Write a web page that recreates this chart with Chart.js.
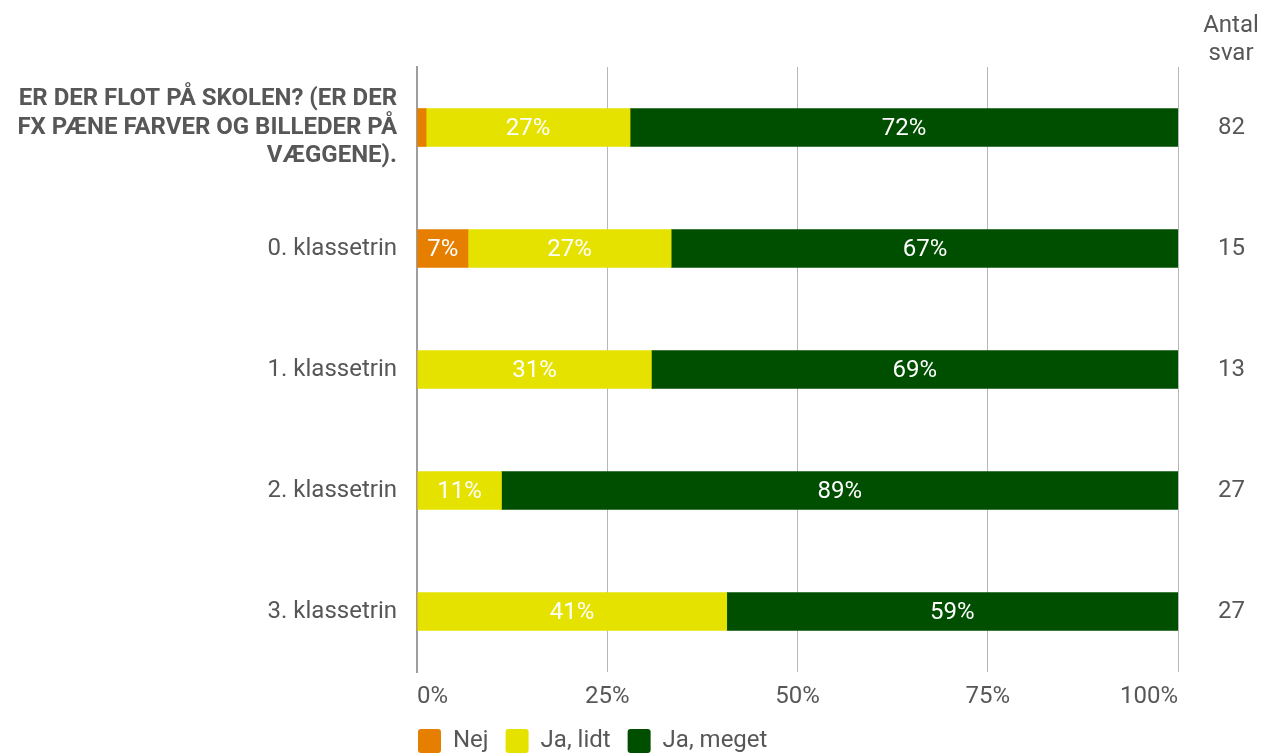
<!DOCTYPE html>
<html>
<head>
<meta charset="utf-8">
<script src="https://cdn.jsdelivr.net/npm/chart.js@4"></script>
<style>
  html, body { margin: 0; padding: 0; background: #fff; }
  #wrap { width: 1264px; height: 753px; }
</style>
</head>
<body>
<div id="wrap"><canvas id="chart"></canvas></div>
<script>
// Categories (first one is the question itself, shown bold in caps)
const categories = [
    ['ER DER FLOT PÅ SKOLEN? (ER DER', 'FX PÆNE FARVER OG BILLEDER PÅ', 'VÆGGENE).'],
    '0. klassetrin',
    '1. klassetrin',
    '2. klassetrin',
    '3. klassetrin'
];

// Shares in percent per answer
const nej = [1.2, 6.7, 0, 0, 0];
const jaLidt = [26.8, 26.7, 30.8, 11.1, 40.7];
const jaMeget = [72.0, 66.7, 69.2, 88.9, 59.3];

// Number of answers per row
const antalSvar = ['82', '15', '13', '27', '27'];

const xTicks = [0, 25, 50, 75, 100];

const textGrey = '#575757';
Chart.defaults.font.family = 'Roboto, "Noto Sans", sans-serif';
Chart.defaults.font.size = 24;
Chart.defaults.color = textGrey;

// Percent labels inside the bar segments
const segmentLabels = {
    id: 'segmentLabels',
    afterDatasetsDraw(chart) {
        const ctx = chart.ctx;
        ctx.save();
        ctx.font = '24px Roboto, sans-serif';
        ctx.fillStyle = '#ffffff';
        ctx.textAlign = 'center';
        ctx.textBaseline = 'middle';
        chart.data.datasets.forEach((ds, i) => {
            chart.getDatasetMeta(i).data.forEach((bar, j) => {
                const v = ds.data[j];
                const w = Math.abs(bar.x - bar.base);
                if (!v || w < 30) return;
                ctx.fillText(Math.round(v) + '%', (bar.x + bar.base) / 2, bar.y + 1);
            });
        });
        ctx.restore();
    }
};

// "Antal svar" header over the count column
const countHeader = {
    id: 'countHeader',
    afterDraw(chart) {
        const s = chart.scales.y2;
        const ctx = chart.ctx;
        ctx.save();
        ctx.font = '24px Roboto, sans-serif';
        ctx.fillStyle = textGrey;
        ctx.textAlign = 'center';
        ctx.textBaseline = 'middle';
        const x = s.left + 53;
        ctx.fillText('Antal', x, 26);
        ctx.fillText('svar', x, 54);
        ctx.restore();
    }
};

// line the legend up with the left edge of the plot
const legendShift = {
    id: 'legendShift',
    afterLayout(chart) {
        const lg = chart.legend;
        const pad = lg.options.labels.padding;
        lg.left -= pad - 1;
        lg.right -= pad - 1;
        lg.top += 7;
        lg.bottom += 7;
    }
};

const ctx = document.getElementById('chart').getContext('2d');
const chart = new Chart(ctx, {
    type: 'bar',
    data: {
        labels: categories,
        datasets: [
            { label: 'Nej', data: nej, backgroundColor: '#e67e00' },
            { label: 'Ja, lidt', data: jaLidt, backgroundColor: '#e6e200' },
            { label: 'Ja, meget', data: jaMeget, backgroundColor: '#004f00' }
        ]
    },
    options: {
        indexAxis: 'y',
        responsive: true,
        maintainAspectRatio: false,
        animation: false,
        barThickness: 38,
        layout: { padding: { top: 67, left: 0, right: 0, bottom: -3 } },
        scales: {
            x: {
                stacked: true,
                min: 0,
                max: 100,
                afterBuildTicks(scale) {
                    scale.ticks = xTicks.map(v => ({ value: v }));
                },
                afterFit(scale) { scale.height = 33; },
                ticks: {
                    align: 'inner',
                    padding: 11,
                    callback: v => v + '%'
                },
                grid: { color: '#b7b7b7', lineWidth: 1, drawTicks: false },
                border: { display: false }
            },
            y: {
                stacked: true,
                afterFit(scale) { scale.width = 417; },
                ticks: {
                    padding: 20,
                    font: c => c.index === 0
                        ? { size: 24, weight: 'bold', lineHeight: 1.17 }
                        : { size: 24 }
                },
                grid: { display: false, drawTicks: false },
                border: { display: true, color: '#9e9e9e', width: 2 }
            },
            y2: {
                type: 'category',
                position: 'right',
                labels: antalSvar,
                offset: true,
                afterFit(scale) { scale.width = 86; },
                ticks: { padding: 40, crossAlign: 'center' },
                grid: { display: false, drawTicks: false },
                border: { display: false }
            }
        },
        plugins: {
            legend: {
                position: 'bottom',
                align: 'start',
                fullSize: false,
                labels: {
                    boxWidth: 23,
                    boxHeight: 24,
                    useBorderRadius: true,
                    borderRadius: 3,
                    padding: 17,
                    font: { size: 24 }
                }
            },
            tooltip: { enabled: false }
        }
    },
    plugins: [segmentLabels, countHeader, legendShift]
});
</script>
</body>
</html>
